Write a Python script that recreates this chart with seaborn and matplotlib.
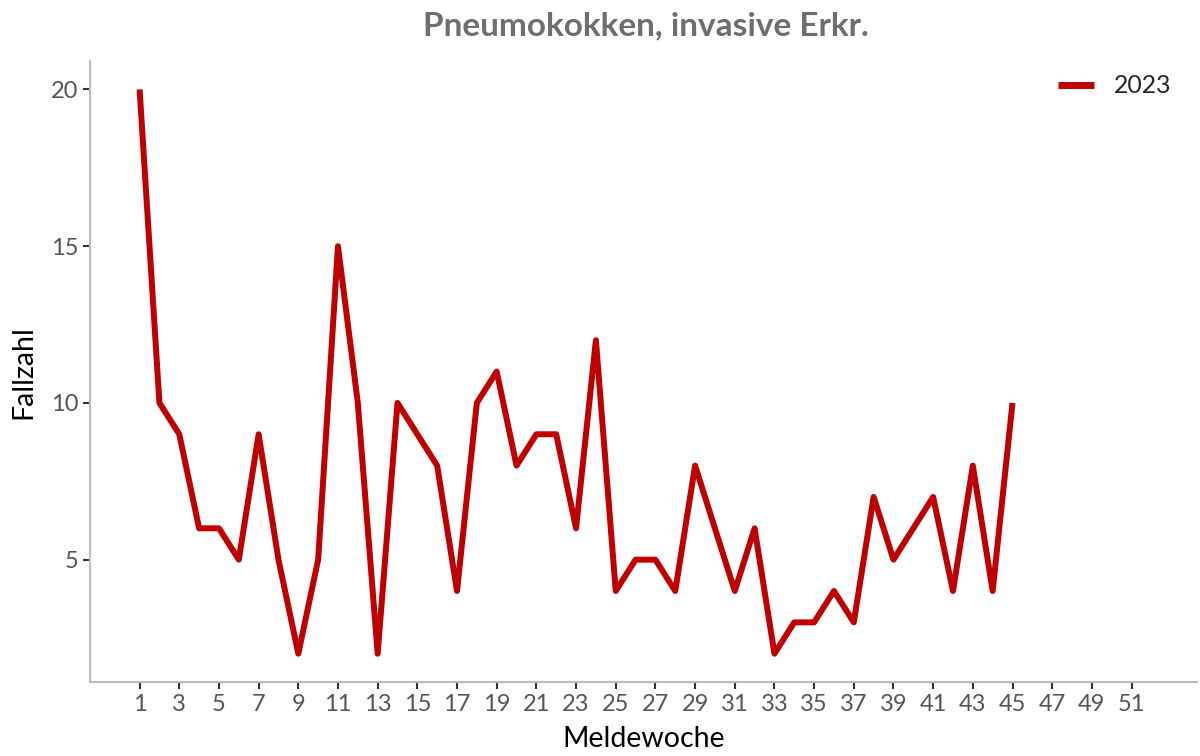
import matplotlib
matplotlib.use("Agg")
import matplotlib.pyplot as plt
import seaborn as sns
import pandas as pd

weeks = list(range(1, 46))
cases_2023 = [20, 10, 9, 6, 6, 5, 9, 5, 2, 5,
              15, 10, 2, 10, 9, 8, 4, 10, 11, 8,
              9, 9, 6, 12, 4, 5, 5, 4, 8, 6,
              4, 6, 2, 3, 3, 4, 3, 7, 5, 6,
              7, 4, 8, 4, 10]
x_ticks = list(range(1, 52, 2))
y_ticks = [5, 10, 15, 20]

df = pd.DataFrame({"Meldewoche": weeks, "Fallzahl": cases_2023, "Jahr": "2023"})

sns.set_style("white")
plt.rcParams["font.family"] = ["Lato", "DejaVu Sans"]

fig = plt.figure(figsize=(12, 7.56), dpi=100)
ax = fig.add_axes([0.075, 0.098, 0.9225, 0.821])

sns.lineplot(data=df, x="Meldewoche", y="Fallzahl", hue="Jahr",
             palette={"2023": "#c00000"}, linewidth=4.3, ax=ax)
for line in ax.get_lines():
    line.set_solid_capstyle("butt")
    line.set_solid_joinstyle("round")

ax.set_xlim(-1.5, 54.3)
ax.set_ylim(1.1, 20.9)
ax.set_xticks(x_ticks)
ax.set_yticks(y_ticks)
ax.tick_params(axis="both", length=5, width=1.5, color="#333333",
               labelsize=17, labelcolor="#555555", bottom=True, left=True)

for side in ["top", "right"]:
    ax.spines[side].set_visible(False)
for side in ["left", "bottom"]:
    ax.spines[side].set_color("#bbbbbb")
    ax.spines[side].set_linewidth(1.5)

ax.set_xlabel("Meldewoche", fontsize=20.5, color="black", labelpad=8)
ax.set_ylabel("Fallzahl", fontsize=20.5, color="black", labelpad=10)
fig.suptitle("Pneumokokken, invasive Erkr.", fontsize=24, fontweight="bold",
             color="#6e6e6e", x=0.538, y=0.985)

leg = ax.legend(loc="upper right", frameon=False, fontsize=17.8,
                handlelength=1.45, handletextpad=0.8,
                bbox_to_anchor=(0.997, 1.015))
for h in leg.get_lines():
    h.set_linewidth(5)

fig.savefig("out.png", dpi=100)
